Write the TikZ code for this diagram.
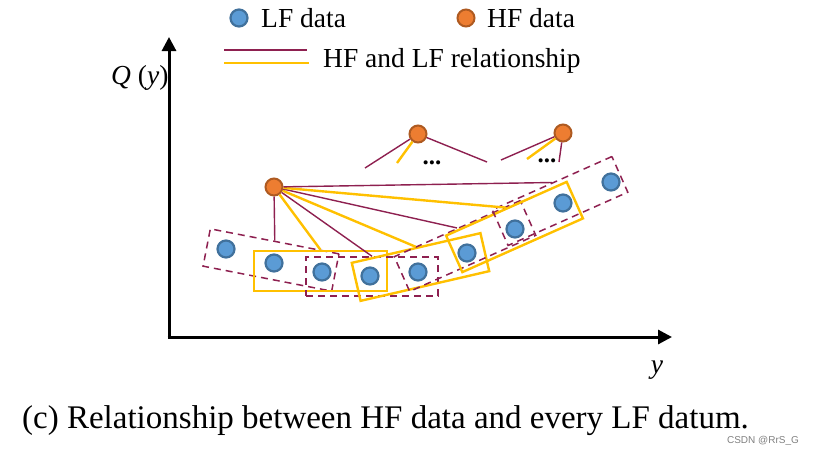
\documentclass[tikz,border=0pt]{standalone}
\usepackage{fontspec}
\setmainfont{Liberation Serif}
\newfontfamily\wmfont{Liberation Sans}
\usetikzlibrary{arrows.meta}
\definecolor{lfblue}{HTML}{5B9BD5}
\definecolor{lfedge}{HTML}{41719C}
\definecolor{hforange}{HTML}{ED7D31}
\definecolor{hfedge}{HTML}{AE5A21}
\definecolor{relred}{HTML}{8E2050}
\definecolor{relgold}{HTML}{FFC000}

\begin{document}
\begin{tikzpicture}[x=1pt,y=-1pt,
  lfpt/.style={circle,draw=lfedge,fill=lfblue,line width=2.2pt,minimum size=17pt,inner sep=0pt},
  hfpt/.style={circle,draw=hfedge,fill=hforange,line width=2pt,minimum size=17pt,inner sep=0pt},
  relm/.style={draw=relred,line width=1.4pt},
  rely/.style={draw=relgold,line width=2.4pt},
  dgroup/.style={draw=relred,line width=1.5pt,dash pattern=on 7pt off 5pt,minimum height=38pt,inner sep=0pt},
  ygroup/.style={draw=relgold,line width=2.4pt,minimum height=39pt,inner sep=0pt},
  lbl/.style={font=\fontsize{27.5}{30}\selectfont,inner sep=0pt},
  axis/.style={line width=3pt,-{Triangle[length=14pt,width=14pt]}}
]
\useasboundingbox (0,0) rectangle (813,448);

% Legend
\node[lfpt] (keylf) at (239,18) {};
\node[lbl,anchor=base west] (keylftxt) at (261,27) {LF data};
\node[hfpt] (keyhf) at (466,18) {};
\node[lbl,anchor=base west] (keyhftxt) at (487,27) {HF data};
\draw[relm] (224,50) -- (307,50);
\draw[rely] (224,63) -- (309,63);
\node[lbl,anchor=base west] (keyreltxt) at (323,67) {HF and LF relationship};

% Axes
\coordinate (origin) at (169,337);
\coordinate (ytip) at (169,37);
\coordinate (xtip) at (672,337);
\draw[axis] (origin) -- (ytip);
\draw[axis] ([xshift=-1.5pt]origin) -- (xtip);
\node[lbl,anchor=base west] (qlabel) at (111,84) {\textit{Q} (\textit{y})};
\node[lbl,anchor=base] (ylabel) at (657,373) {\textit{y}};

% Groups of LF data
\node[dgroup,rotate=-11,minimum width=131pt] (d1) at (271,260) {};
\node[ygroup,minimum width=133pt,minimum height=40pt] (y1) at (320.5,271) {};
\node[dgroup,minimum width=132pt,minimum height=39pt] (d2) at (372,276.5) {};
\node[ygroup,rotate=13,minimum width=132pt] (y2) at (420.5,267) {};
\node[dgroup,rotate=24,minimum width=138pt] (d3) at (465,246) {};
\node[ygroup,rotate=24,minimum width=132pt,minimum height=40pt] (y3) at (514.5,227) {};
\node[dgroup,rotate=24,minimum width=131pt,minimum height=39pt] (d4) at (560,201) {};

% HF data
\node[hfpt] (hf1) at (274,187) {};
\node[hfpt] (hf2) at (418,134) {};
\node[hfpt] (hf3) at (563,133) {};

% HF and LF relationship
\draw[relm] (hf1) -- (d1.north);
\draw[rely] (hf1) -- (y1.north);
\draw[relm] (hf1) -- (d2.north);
\draw[rely] (hf1) -- (y2.north);
\draw[relm] (hf1) -- (d3.north);
\draw[rely] (hf1) -- (y3.north);
\draw[relm] (hf1) -- (d4.north);

\coordinate (h2l) at (365,168);
\coordinate (h2y) at (397,163);
\coordinate (h2r) at (487,162);
\draw[relm] (hf2) -- (h2l);
\draw[rely] (hf2) -- (h2y);
\draw[relm] (hf2) -- (h2r);
\node[font=\bfseries\fontsize{25}{27}\selectfont,inner sep=0pt,anchor=base] (dots2) at (432,164) {...};

\coordinate (h3l) at (501,160);
\coordinate (h3y) at (527,159);
\coordinate (h3d) at (559,162);
\draw[relm] (hf3) -- (h3l);
\draw[rely] (hf3) -- (h3y);
\draw[relm] (hf3) -- (h3d);
\node[font=\bfseries\fontsize{25}{27}\selectfont,inner sep=0pt,anchor=base] (dots3) at (547,162) {...};

% LF data
\foreach \n/\x/\y in {1/226/249,2/274/263,3/322/272,4/370/276,5/418/272,
                      6/467/253,7/515/229,8/563/203,9/611/182}
  \node[lfpt] (lf\n) at (\x,\y) {};

% Caption
\node[font=\fontsize{33}{36}\selectfont,inner sep=0pt,anchor=base west] (caption) at (22,428)
  {(c) Relationship between HF data and every LF datum.};
\node[font=\wmfont\fontsize{10}{12}\selectfont,text=gray,inner sep=0pt] (mark) at (763,441) {CSDN @RrS\_G};

\end{tikzpicture}
\end{document}
